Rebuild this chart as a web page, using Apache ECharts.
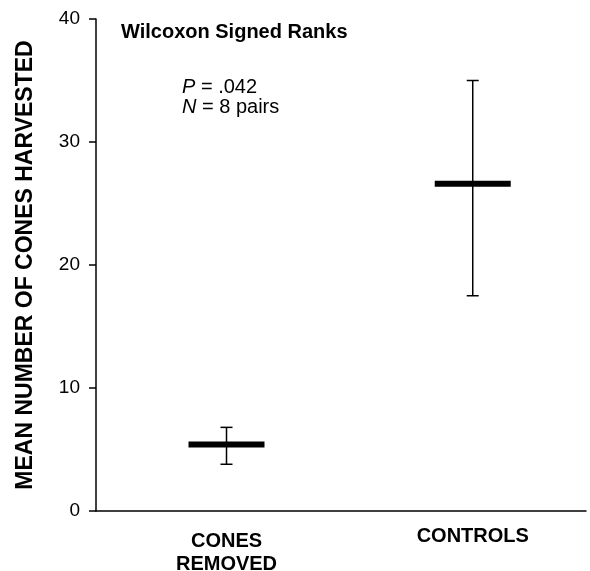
<!DOCTYPE html>
<html>
<head>
<meta charset="utf-8">
<script src="https://cdn.jsdelivr.net/npm/echarts@6/dist/echarts.min.js"></script>
<style>html,body{margin:0;padding:0;background:#fff;}#c{width:590px;height:571px;}</style>
</head>
<body>
<div id="c"></div>
<script>
var categories = ['CONES\nREMOVED', 'CONTROLS'];
var positions = [0, 1];
var means = [5.4, 26.6];
var upper = [6.8, 35.0];
var lower = [3.8, 17.5];
var yTicks = [0, 10, 20, 30, 40];

var FONT = '"Liberation Sans", Arial, Helvetica, sans-serif';
var chart = echarts.init(document.getElementById('c'), null, {renderer: 'canvas'});

var data = positions.map(function (p, i) { return [p, means[i], lower[i], upper[i]]; });

chart.setOption({
  animation: false,
  backgroundColor: '#fff',
  grid: {left: 96, right: 4, top: 19, bottom: 60, containLabel: false, outerBoundsMode: 'none'},
  xAxis: {
    type: 'value', min: -0.53, max: 1.46,
    splitLine: {show: false},
    axisLine: {show: true, onZero: false, lineStyle: {color: '#000', width: 1.5}},
    axisTick: {show: false},
    axisLabel: {
      customValues: positions,
      margin: 19,
      formatter: function (v) {
        var i = positions.indexOf(Math.round(v));
        if (i < 0) return '';
        var lines = categories[i].split('\n');
        if (lines.length === 1) return '{b|' + lines[0] + '}';
        return lines.map(function (l) { return '{a|' + l + '}'; }).join('\n');
      },
      rich: {
        a: {fontFamily: FONT, fontSize: 20, fontWeight: 'bold', color: '#000', lineHeight: 23},
        b: {fontFamily: FONT, fontSize: 20, fontWeight: 'bold', color: '#000', lineHeight: 13}
      }
    }
  },
  yAxis: {
    type: 'value', min: yTicks[0], max: yTicks[yTicks.length - 1], interval: 10,
    name: 'MEAN NUMBER OF CONES HARVESTED',
    nameLocation: 'middle', nameRotate: 90, nameGap: 59,
    nameTextStyle: {fontFamily: FONT, fontSize: 23, fontWeight: 'bold', color: '#000'},
    splitLine: {show: false},
    axisLine: {show: true, onZero: false, lineStyle: {color: '#000', width: 1.5}},
    axisTick: {show: true, length: 7, lineStyle: {color: '#000', width: 1.5}},
    axisLabel: {fontFamily: FONT, fontSize: 19, color: '#000', margin: 16}
  },
  graphic: [
    {type: 'text', left: 121, top: 22, style: {text: 'Wilcoxon Signed Ranks', font: 'bold 20px ' + FONT, fill: '#000'}},
    {type: 'text', left: 182, top: 77, style: {
      text: '{i|P} = .042\n{i|N} = 8 pairs',
      font: '20px ' + FONT, fill: '#000', lineHeight: 20,
      rich: {i: {fontStyle: 'italic', fontFamily: FONT, fontSize: 20, fill: '#000', lineHeight: 20}}
    }}
  ],
  series: [{
    type: 'custom',
    data: data,
    encode: {x: 0, y: [1, 2, 3]},
    renderItem: function (params, api) {
      var x = api.value(0);
      var pm = api.coord([x, api.value(1)]);
      var pl = api.coord([x, api.value(2)]);
      var pu = api.coord([x, api.value(3)]);
      var cap = 6, half = 38;
      var ls = {stroke: '#000', lineWidth: 1.5};
      return {
        type: 'group',
        children: [
          {type: 'line', shape: {x1: pm[0], y1: pl[1], x2: pm[0], y2: pu[1]}, style: ls},
          {type: 'line', shape: {x1: pm[0] - cap, y1: pu[1], x2: pm[0] + cap, y2: pu[1]}, style: ls},
          {type: 'line', shape: {x1: pm[0] - cap, y1: pl[1], x2: pm[0] + cap, y2: pl[1]}, style: ls},
          {type: 'rect', shape: {x: pm[0] - half, y: pm[1] - 3, width: half * 2, height: 6}, style: {fill: '#000'}}
        ]
      };
    }
  }]
});
</script>
</body>
</html>
